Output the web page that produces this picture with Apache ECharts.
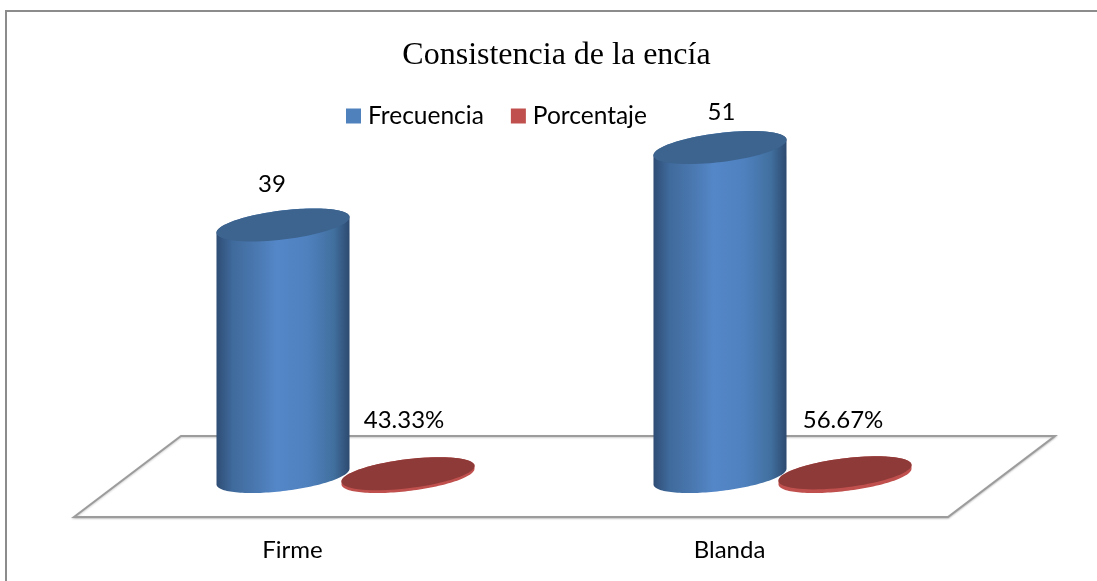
<!DOCTYPE html>
<html lang="es">

<head>
    <meta charset="UTF-8">
    <title>Consistencia de la encía</title>
    <script src="https://cdn.jsdelivr.net/npm/echarts@6/dist/echarts.min.js"></script>
    <style>
        body {
            margin: 0;
            background: #fff;
        }

        #root {
            width: 1097px;
            height: 581px;
        }
    </style>
</head>

<body>

    <div id="root"></div>
    <script>

        var categorias = ['Firme', 'Blanda'];
        var frecuencia = [39, 51];
        var porcentaje = [0.4333, 0.5667];

        var mychart = echarts.init(document.getElementById("root"));

        // elipse inclinada, la misma para la tapa y la base
        var RX = 67, RY = 14.5, TILT = -7 * Math.PI / 180;

        function ellipsePoint(cx, cy, t) {
            var x = RX * Math.cos(t), y = RY * Math.sin(t);
            return [
                cx + x * Math.cos(TILT) - y * Math.sin(TILT),
                cy + x * Math.sin(TILT) + y * Math.cos(TILT)
            ];
        }

        function ellipseArc(cx, cy, from, to) {
            var pts = [];
            for (var i = 0; i <= 72; i++) {
                pts.push(ellipsePoint(cx, cy, from + (to - from) * i / 72));
            }
            return pts;
        }

        // dibuja un cilindro desde cero hasta el valor
        function cylinder(dx, body, top, labelFmt, labelShift) {
            return function (params, api) {
                var base = api.coord([api.value(0), 0]);
                var tip = api.coord([api.value(0), api.value(1)]);
                var cx = base[0] + dx;
                // puntos de los extremos izquierdo y derecho de la elipse
                var tEdge = Math.atan2(-RY * Math.sin(TILT), RX * Math.cos(TILT));
                var side = ellipseArc(cx, base[1], tEdge + Math.PI, tEdge)
                    .concat(ellipseArc(cx, tip[1], tEdge, tEdge - Math.PI));
                var shift = labelShift[params.dataIndex];
                return {
                    type: 'group',
                    children: [{
                        type: 'polygon',
                        shape: { points: side },
                        style: { fill: body }
                    }, {
                        type: 'polygon',
                        shape: { points: ellipseArc(cx, tip[1], 0, Math.PI * 2) },
                        style: { fill: top }
                    }, {
                        type: 'text',
                        style: {
                            text: labelFmt(api.value(1)),
                            x: cx + shift[0],
                            y: tip[1] + shift[1],
                            align: 'center',
                            verticalAlign: 'middle',
                            font: '24px Lato',
                            fill: '#000'
                        }
                    }]
                };
            };
        }

        var blueBody = new echarts.graphic.LinearGradient(0, 0, 1, 0, [
            { offset: 0, color: '#2f4d75' },
            { offset: 0.12, color: '#3f6a9c' },
            { offset: 0.3, color: '#4a78b0' },
            { offset: 0.45, color: '#5487c8' },
            { offset: 0.68, color: '#4f81bf' },
            { offset: 0.88, color: '#41709f' },
            { offset: 1, color: '#2d4a70' }
        ]);

        mychart.setOption({
            animation: false,
            backgroundColor: '#fff',
            title: {
                text: 'Consistencia de la encía',
                left: 551.5,
                top: 35,
                textAlign: 'center',
                textStyle: {
                    fontFamily: 'Liberation Serif',
                    fontSize: 32,
                    fontWeight: 'normal',
                    color: '#000'
                }
            },
            legend: {
                left: 346,
                top: 103.5,
                padding: 0,
                itemWidth: 15,
                itemHeight: 15,
                itemGap: 27,
                textStyle: { fontFamily: 'Lato', fontSize: 24.5, color: '#000', padding: [0, 0, 0, 2] },
                data: [
                    { name: 'Frecuencia', icon: 'rect', itemStyle: { color: '#4f81bd' } },
                    { name: 'Porcentaje', icon: 'rect', itemStyle: { color: '#c0504d' } }
                ]
            },
            grid: { left: 74, width: 874, top: 89.5, height: 387 },
            xAxis: {
                type: 'category',
                data: categorias,
                axisLine: { show: false },
                axisTick: { show: false },
                axisLabel: {
                    margin: 62,
                    fontFamily: 'Lato',
                    fontSize: 24,
                    color: '#000'
                }
            },
            yAxis: {
                type: 'value',
                min: 0,
                max: 60,
                show: false
            },
            graphic: [{
                type: 'polygon',
                z: 0,
                shape: { points: [[74, 517], [181, 436], [1055, 436], [948, 517]] },
                style: { fill: '#fff', stroke: '#9c9c9c', lineWidth: 2, shadowBlur: 2, shadowColor: 'rgba(0,0,0,0.2)', shadowOffsetY: 1 }
            }, {
                type: 'polyline',
                z: 0,
                shape: { points: [[6, 581], [6, 11], [1097, 11]] },
                style: { fill: 'none', stroke: '#8c8c8c', lineWidth: 2 }
            }],
            series: [{
                name: 'Frecuencia',
                type: 'custom',
                encode: { x: 0, y: 1 },
                itemStyle: { color: '#4f81bd' },
                data: frecuencia.map(function (v, i) { return [i, v]; }),
                renderItem: cylinder(-9.5, blueBody, '#3d648f', function (v) {
                    return String(v);
                }, [[-11, -41], [1.5, -35]])
            }, {
                name: 'Porcentaje',
                type: 'custom',
                encode: { x: 0, y: 1 },
                itemStyle: { color: '#c0504d' },
                data: porcentaje.map(function (v, i) { return [i, v]; }),
                renderItem: cylinder(115.5, '#c0504d', '#8e3a38', function (v) {
                    return (v * 100).toFixed(2) + '%';
                }, [[-4, -53], [-2, -53]])
            }]
        });

    </script>

</body>

</html>
